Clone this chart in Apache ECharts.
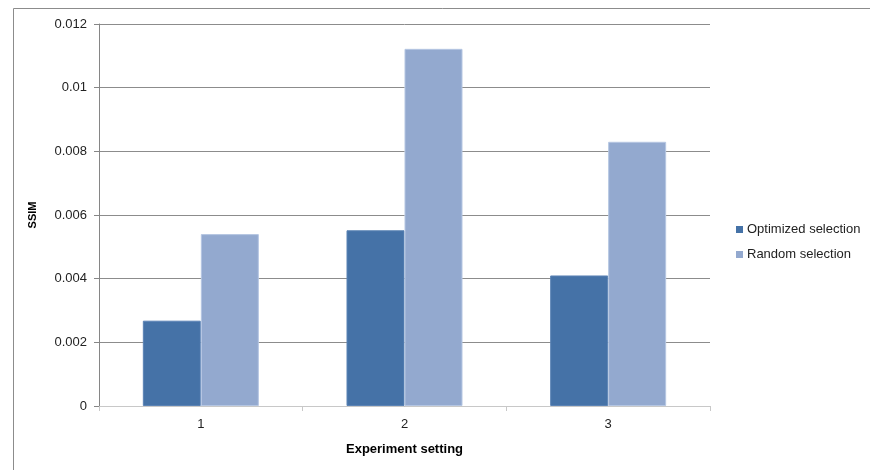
<!DOCTYPE html>
<html>
<head>
<meta charset="utf-8">
<script src="https://cdn.jsdelivr.net/npm/echarts@6/dist/echarts.min.js"></script>
<style>
  html, body { margin: 0; padding: 0; background: #fff; }
  #chart { width: 870px; height: 470px; }
</style>
</head>
<body>
<div id="chart"></div>
<script>
// Experiment settings on the x axis
const categories = ['1', '2', '3'];
// SSIM per setting for each selection strategy
const optimizedSelection = [0.00268, 0.00552, 0.0041];
const randomSelection = [0.0054, 0.01122, 0.0083];
const seriesNames = ['Optimized selection', 'Random selection'];

const font = '"Liberation Sans", "DejaVu Sans", sans-serif';
const chart = echarts.init(document.getElementById('chart'), null, { renderer: 'canvas' });

chart.setOption({
  animation: false,
  backgroundColor: '#ffffff',
  graphic: [{
    type: 'rect',
    left: 11, top: 6,
    shape: { width: 900, height: 500 },
    style: { fill: 'none', stroke: '#8c8c8c', lineWidth: 1 },
    silent: true
  }],
  grid: { left: 99, right: 160, top: 24, bottom: 64, containLabel: false },
  legend: {
    orient: 'vertical',
    left: 731, top: 218,
    itemWidth: 7, itemHeight: 7, itemGap: 12,
    icon: 'rect',
    itemStyle: { borderWidth: 0 },
    textStyle: { fontFamily: font, fontSize: 13, color: '#222', padding: [0, 0, 0, -1] },
    data: seriesNames
  },
  xAxis: {
    type: 'category',
    data: categories,
    name: 'Experiment setting',
    nameLocation: 'middle',
    nameGap: 37,
    nameTextStyle: { fontFamily: font, fontSize: 13, fontWeight: 'bold', color: '#000' },
    axisLine: { lineStyle: { color: '#c8c8c8', width: 1 } },
    axisTick: { show: true, length: 5, lineStyle: { color: '#c8c8c8' } },
    axisLabel: { fontFamily: font, fontSize: 13, color: '#222', margin: 12 }
  },
  yAxis: {
    type: 'value',
    min: 0, max: 0.012, interval: 0.002,
    name: 'SSIM',
    nameLocation: 'middle',
    nameGap: 61,
    nameTextStyle: { fontFamily: font, fontSize: 11, fontWeight: 'bold', color: '#000' },
    axisLine: { show: true, lineStyle: { color: '#868686', width: 1 } },
    axisTick: { show: true, length: 5, lineStyle: { color: '#868686' } },
    axisLabel: {
      fontFamily: font, fontSize: 13, color: '#222', margin: 12,
      formatter: v => (v === 0 ? '0' : String(parseFloat(v.toFixed(3))))
    },
    splitLine: { lineStyle: { color: '#8c8c8c', width: 1 } }
  },
  series: [
    {
      name: seriesNames[0],
      type: 'bar',
      data: optimizedSelection,
      barWidth: 58,
      barGap: '0%',
      itemStyle: { color: '#4572a7', borderColor: '#5b83b5', borderWidth: 1 }
    },
    {
      name: seriesNames[1],
      type: 'bar',
      data: randomSelection,
      barWidth: 58,
      barGap: '0%',
      itemStyle: { color: '#93a9cf', borderColor: '#b5c6e2', borderWidth: 1 }
    }
  ]
});
</script>
</body>
</html>
